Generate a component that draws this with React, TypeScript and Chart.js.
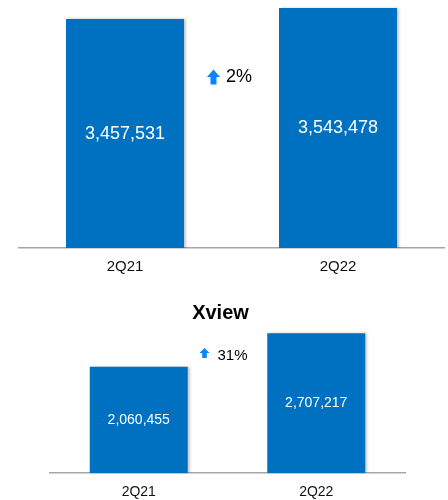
import React, { useEffect, useRef } from "react";
import { Chart, registerables } from "chart.js";

Chart.register(...registerables);

const categories = ["2Q21", "2Q22"];
const totalValues = [3457531, 3543478];
const xviewValues = [2060455, 2707217];
const totalChange = "2%";
const xviewChange = "31%";
const xviewTitle = "Xview";

const BAR_COLOR = "#0070C0";
const ARROW_COLOR = "#0A84FF";
const AXIS_COLOR = "#A6A6A6";
const FONT = "'Liberation Sans', Arial, sans-serif";

const barShadow = {
  id: "barShadow",
  beforeDatasetDraw(chart: any) {
    const ctx = chart.ctx;
    ctx.save();
    ctx.shadowColor = "rgba(0,0,0,0.28)";
    ctx.shadowBlur = 3;
    ctx.shadowOffsetX = 2;
    ctx.shadowOffsetY = 0;
  },
  afterDatasetDraw(chart: any) {
    chart.ctx.restore();
  },
};

function valueLabels(size: number) {
  return {
    id: "valueLabels",
    afterDatasetsDraw(chart: any) {
      const ctx = chart.ctx;
      const meta = chart.getDatasetMeta(0);
      const data = chart.data.datasets[0].data as number[];
      const area = chart.chartArea;
      ctx.save();
      ctx.fillStyle = "#ffffff";
      ctx.font = `${size}px ${FONT}`;
      ctx.textAlign = "center";
      ctx.textBaseline = "middle";
      meta.data.forEach((bar: any, i: number) => {
        const { x, y, base } = bar.getProps(["x", "y", "base"], true);
        const b = Math.min(base, area.bottom);
        const t = Math.max(y, area.top);
        ctx.fillText(data[i].toLocaleString("en-US"), x, (t + b) / 2);
      });
      ctx.restore();
    },
  };
}

function changeNote(
  text: string,
  size: number,
  arrowW: number,
  arrowH: number,
  arrowDy: number,
  gap: number,
  dx: number,
  yOff: number
) {
  return {
    id: "changeNote",
    afterDatasetsDraw(chart: any) {
      const ctx = chart.ctx;
      const meta = chart.getDatasetMeta(0);
      const cx = (meta.data[0].x + meta.data[1].x) / 2 + dx;
      const y = chart.chartArea.top + yOff;
      ctx.save();
      ctx.font = `${size}px ${FONT}`;
      const tw = ctx.measureText(text).width;
      const total = arrowW + gap + tw;
      const left = cx - total / 2;
      const ay = y + arrowDy;
      const top = ay - arrowH / 2;
      const bottom = ay + arrowH / 2;
      const headH = arrowH * 0.5;
      const shaftW = arrowW * 0.46;
      const mid = left + arrowW / 2;
      ctx.fillStyle = ARROW_COLOR;
      ctx.beginPath();
      ctx.moveTo(mid, top);
      ctx.lineTo(left + arrowW, top + headH);
      ctx.lineTo(mid + shaftW / 2, top + headH);
      ctx.lineTo(mid + shaftW / 2, bottom);
      ctx.lineTo(mid - shaftW / 2, bottom);
      ctx.lineTo(mid - shaftW / 2, top + headH);
      ctx.lineTo(left, top + headH);
      ctx.closePath();
      ctx.fill();
      ctx.fillStyle = "#000000";
      ctx.textAlign = "left";
      ctx.textBaseline = "middle";
      ctx.fillText(text, left + arrowW + gap, y);
      ctx.restore();
    },
  };
}

function TopChart() {
  const ref = useRef<HTMLCanvasElement>(null);
  useEffect(() => {
    const chart = new Chart(ref.current as HTMLCanvasElement, {
      type: "bar",
      data: {
        labels: categories,
        datasets: [
          {
            data: totalValues,
            backgroundColor: BAR_COLOR,
            barPercentage: 0.554,
            categoryPercentage: 1,
          },
        ],
      },
      options: {
        responsive: false,
        animation: false,
        layout: { padding: { left: 18.5, right: 3.5, top: 0, bottom: 0 } },
        plugins: { legend: { display: false }, tooltip: { enabled: false } },
        scales: {
          x: {
            grid: { display: false, drawTicks: false },
            border: { display: true, color: AXIS_COLOR, width: 1.5 },
            ticks: { color: "#111111", font: { family: FONT, size: 15 }, padding: 10 },
          },
          y: { display: false, min: 1690000, max: 3605000 },
        },
      },
      plugins: [barShadow, valueLabels(18), changeNote(totalChange, 18, 13, 15, 0, 6, -2, 77)],
    });
    return () => chart.destroy();
  }, []);
  return <canvas ref={ref} width={448} height={286} style={{ position: "absolute", left: 0, top: 0 }} />;
}

function BottomChart() {
  const ref = useRef<HTMLCanvasElement>(null);
  useEffect(() => {
    const chart = new Chart(ref.current as HTMLCanvasElement, {
      type: "bar",
      data: {
        labels: categories,
        datasets: [
          {
            data: xviewValues,
            backgroundColor: BAR_COLOR,
            barPercentage: 0.552,
            categoryPercentage: 1,
          },
        ],
      },
      options: {
        responsive: false,
        animation: false,
        layout: { padding: { left: 36, right: 43, top: 0, bottom: 0 } },
        plugins: {
          legend: { display: false },
          tooltip: { enabled: false },
          title: {
            display: true,
            text: xviewTitle,
            color: "#000000",
            font: { family: FONT, size: 20, weight: "bold" },
            padding: { top: 11, bottom: 0 },
          },
        },
        scales: {
          x: {
            grid: { display: false, drawTicks: false },
            border: { display: true, color: AXIS_COLOR, width: 1.5 },
            ticks: { color: "#111111", font: { family: FONT, size: 14 }, padding: 11 },
          },
          y: {
            display: true,
            min: 0,
            max: 2868000,
            grid: { display: false },
            border: { display: false },
            ticks: { display: false },
            afterFit: (s: any) => {
              s.width = 14;
            },
          },
        },
      },
      plugins: [barShadow, valueLabels(14), changeNote(xviewChange, 15, 10, 10, -3, 8, -4, 31)],
    });
    return () => chart.destroy();
  }, []);
  return <canvas ref={ref} width={448} height={222} style={{ position: "absolute", left: 0, top: 290 }} />;
}

export default function App() {
  return (
    <div
      style={{
        position: "fixed",
        left: 0,
        top: 0,
        width: 448,
        height: 500,
        background: "#ffffff",
        overflow: "hidden",
      }}
    >
      <TopChart />
      <BottomChart />
    </div>
  );
}
